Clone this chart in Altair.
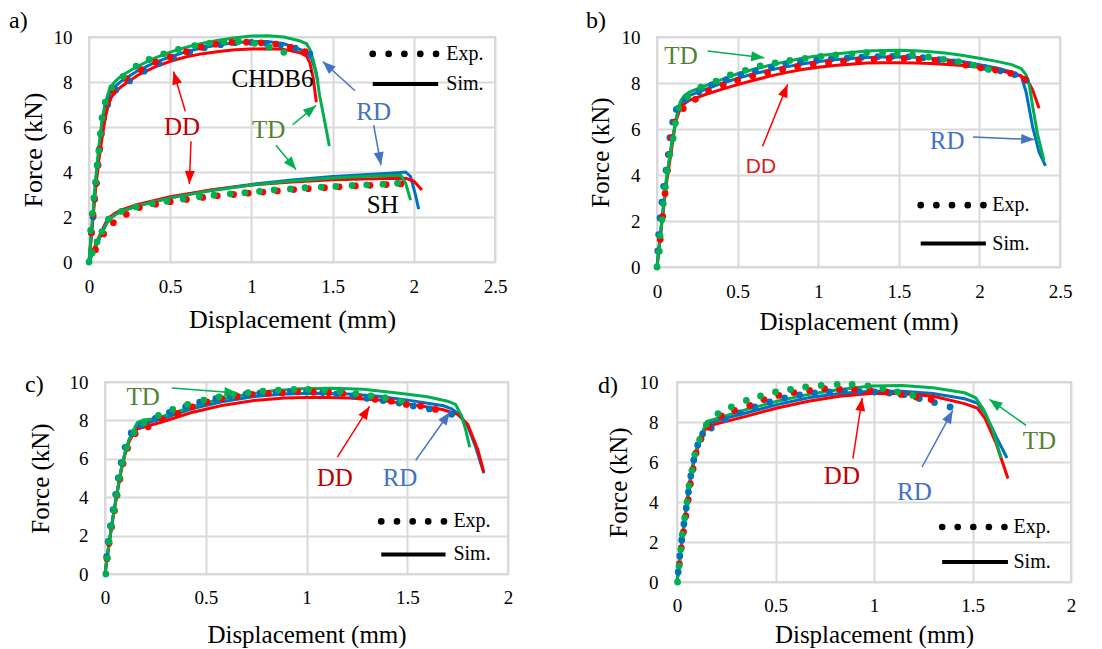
import math
import altair as alt
import pandas as pd

SERIF = "Liberation Serif"
SANS = "Liberation Sans"
GRID = "#D9D9D9"
SIM_COL = {"RD": "#0070C0", "DD": "#FF0000", "TD": "#00B050"}
ARROW_COL = {"RD": "#4472C4", "DD": "#FF0000", "TD": "#00B050"}
TEXT_COL = {"RD": "#4472C4", "DD": "#C00000", "TD": "#548235", "K": "#000000", "DDb": "#E01B1B"}
Y_TICKS = [0, 2, 4, 6, 8, 10]

# ---------------- panel a) CHDB6 + SH ----------------
a_ch_td_sim_x = [0, 0.02, 0.04, 0.06, 0.08, 0.10, 0.13, 0.16, 0.20, 0.30, 0.40, 0.50, 0.60, 0.70, 0.80, 0.90, 1.00, 1.10, 1.20, 1.30, 1.34, 1.36, 1.38, 1.40, 1.42, 1.45, 1.48]
a_ch_td_sim_y = [0, 1.8, 3.6, 5.1, 6.3, 7.1, 7.75, 8.02, 8.28, 8.7, 9.05, 9.33, 9.55, 9.72, 9.86, 9.97, 10.04, 10.06, 10.0, 9.82, 9.7, 9.45, 9.0, 8.4, 7.4, 6.3, 5.15]
a_ch_rd_sim_x = [0, 0.02, 0.04, 0.06, 0.08, 0.10, 0.13, 0.16, 0.20, 0.30, 0.40, 0.50, 0.60, 0.70, 0.80, 0.90, 1.00, 1.10, 1.20, 1.30, 1.34, 1.37, 1.39, 1.41]
a_ch_rd_sim_y = [0, 1.7, 3.4, 4.9, 6.1, 6.9, 7.5, 7.8, 8.05, 8.5, 8.85, 9.12, 9.35, 9.52, 9.65, 9.74, 9.8, 9.8, 9.7, 9.45, 9.3, 9.05, 8.6, 8.0]
a_ch_dd_sim_x = [0, 0.02, 0.04, 0.06, 0.08, 0.10, 0.12, 0.14, 0.17, 0.20, 0.30, 0.40, 0.50, 0.60, 0.70, 0.80, 0.90, 1.00, 1.10, 1.20, 1.30, 1.34, 1.36, 1.38, 1.40]
a_ch_dd_sim_y = [0, 1.6, 3.2, 4.5, 5.5, 6.4, 7.0, 7.35, 7.6, 7.8, 8.3, 8.65, 8.92, 9.12, 9.26, 9.36, 9.43, 9.47, 9.48, 9.45, 9.3, 9.15, 8.85, 8.2, 7.1]
a_sh_td_sim_x = [0, 0.02, 0.04, 0.07, 0.10, 0.12, 0.16, 0.20, 0.30, 0.50, 0.75, 1.00, 1.25, 1.50, 1.75, 1.92, 1.95, 1.98]
a_sh_td_sim_y = [0, 0.35, 0.65, 1.15, 1.6, 1.87, 2.1, 2.25, 2.5, 2.85, 3.17, 3.42, 3.6, 3.73, 3.82, 3.85, 3.5, 2.75]
a_sh_rd_sim_x = [0, 0.02, 0.04, 0.07, 0.10, 0.12, 0.16, 0.20, 0.30, 0.50, 0.75, 1.00, 1.25, 1.50, 1.75, 1.90, 1.95, 1.98, 2.01, 2.03]
a_sh_rd_sim_y = [0, 0.35, 0.65, 1.15, 1.6, 1.87, 2.1, 2.25, 2.5, 2.85, 3.2, 3.45, 3.65, 3.8, 3.9, 3.97, 4.0, 3.8, 3.0, 2.35]
a_sh_dd_sim_x = [0, 0.02, 0.04, 0.07, 0.10, 0.12, 0.16, 0.20, 0.30, 0.50, 0.75, 1.00, 1.25, 1.50, 1.75, 1.95, 2.00, 2.05]
a_sh_dd_sim_y = [0, 0.4, 0.75, 1.25, 1.7, 1.95, 2.17, 2.32, 2.56, 2.9, 3.2, 3.42, 3.56, 3.65, 3.7, 3.72, 3.6, 3.2]

a_ch_td_exp_x = [0.01, 0.02, 0.03, 0.04, 0.05, 0.06, 0.07, 0.08, 0.10, 0.14, 0.21, 0.29, 0.37, 0.46, 0.55, 0.65, 0.74, 0.83, 0.92, 1.02, 1.11, 1.20]
a_ch_td_exp_y = [1.4, 2.15, 2.85, 3.55, 4.3, 4.95, 5.7, 6.4, 7.1, 7.75, 8.25, 8.7, 9.0, 9.25, 9.45, 9.62, 9.72, 9.78, 9.8, 9.72, 9.55, 9.32]
a_ch_dd_exp_x = [0.015, 0.025, 0.035, 0.045, 0.055, 0.065, 0.075, 0.09, 0.11, 0.15, 0.23, 0.32, 0.41, 0.50, 0.60, 0.69, 0.78, 0.88, 0.97, 1.06, 1.15, 1.24, 1.33]
a_ch_dd_exp_y = [1.3, 2.1, 2.8, 3.5, 4.3, 5.0, 5.7, 6.4, 7.05, 7.6, 8.15, 8.55, 8.88, 9.12, 9.35, 9.55, 9.68, 9.76, 9.77, 9.74, 9.68, 9.55, 9.35]
a_ch_rd_exp_x = [0.015, 0.025, 0.035, 0.045, 0.055, 0.065, 0.075, 0.09, 0.115, 0.165, 0.25, 0.34, 0.43, 0.52, 0.62, 0.71, 0.81, 0.90, 1.00, 1.09, 1.18, 1.27, 1.36]
a_ch_rd_exp_y = [1.3, 2.0, 2.8, 3.5, 4.3, 5.0, 5.7, 6.4, 7.0, 7.65, 8.05, 8.48, 8.82, 9.1, 9.33, 9.52, 9.66, 9.74, 9.76, 9.72, 9.64, 9.5, 9.25]
a_sh_td_exp_x = [0.0, 0.02, 0.05, 0.08, 0.12, 0.20, 0.29, 0.39, 0.48, 0.58, 0.68, 0.77, 0.87, 0.96, 1.05, 1.14, 1.24, 1.33, 1.43, 1.52, 1.62, 1.71, 1.81, 1.90]
a_sh_td_exp_y = [0.0, 0.4, 0.9, 1.35, 1.9, 2.25, 2.45, 2.6, 2.7, 2.8, 2.9, 2.97, 3.03, 3.08, 3.14, 3.2, 3.25, 3.3, 3.33, 3.36, 3.4, 3.43, 3.46, 3.5]
a_sh_dd_exp_x = [0.04, 0.09, 0.15, 0.23, 0.31, 0.41, 0.50, 0.60, 0.70, 0.79, 0.89, 0.98, 1.07, 1.16, 1.26, 1.35, 1.45, 1.54, 1.64, 1.73, 1.83, 1.92]
a_sh_dd_exp_y = [0.55, 1.25, 1.75, 2.12, 2.42, 2.57, 2.68, 2.78, 2.87, 2.94, 3.0, 3.06, 3.11, 3.16, 3.22, 3.26, 3.3, 3.34, 3.38, 3.41, 3.44, 3.47]

# ---------------- panel b) ----------------
b_td_sim_x = [0, 0.03, 0.06, 0.09, 0.12, 0.145, 0.17, 0.2, 0.3, 0.4, 0.5, 0.6, 0.7, 0.8, 0.9, 1.0, 1.1, 1.2, 1.3, 1.4, 1.5, 1.6, 1.7, 1.8, 1.9, 2.0, 2.1, 2.2, 2.26, 2.29, 2.31, 2.33, 2.36, 2.40]
b_td_sim_y = [0, 2.0, 3.9, 5.3, 6.5, 7.2, 7.45, 7.6, 7.88, 8.15, 8.4, 8.6, 8.77, 8.93, 9.08, 9.18, 9.26, 9.33, 9.39, 9.41, 9.42, 9.4, 9.36, 9.29, 9.2, 9.08, 8.95, 8.8, 8.62, 8.35, 7.9, 7.0, 5.8, 4.65]
b_rd_sim_x = [0, 0.03, 0.06, 0.09, 0.12, 0.145, 0.17, 0.2, 0.3, 0.4, 0.5, 0.6, 0.7, 0.8, 0.9, 1.0, 1.1, 1.2, 1.3, 1.4, 1.5, 1.6, 1.7, 1.8, 1.9, 2.0, 2.1, 2.2, 2.26, 2.29, 2.33, 2.37, 2.41]
b_rd_sim_y = [0, 2.0, 3.9, 5.3, 6.5, 7.1, 7.3, 7.45, 7.72, 7.98, 8.2, 8.4, 8.56, 8.7, 8.83, 8.93, 9.01, 9.07, 9.11, 9.13, 9.14, 9.12, 9.08, 9.01, 8.92, 8.8, 8.66, 8.48, 8.3, 7.6, 6.1, 5.0, 4.4]
b_dd_sim_x = [0, 0.03, 0.06, 0.09, 0.115, 0.15, 0.2, 0.3, 0.4, 0.5, 0.6, 0.7, 0.8, 0.9, 1.0, 1.1, 1.2, 1.3, 1.4, 1.5, 1.6, 1.7, 1.8, 1.9, 2.0, 2.1, 2.2, 2.26, 2.3, 2.33, 2.37]
b_dd_sim_y = [0, 1.9, 3.7, 5.1, 6.3, 7.0, 7.25, 7.5, 7.72, 7.93, 8.12, 8.3, 8.45, 8.59, 8.68, 8.76, 8.82, 8.87, 8.88, 8.88, 8.87, 8.85, 8.8, 8.76, 8.68, 8.58, 8.42, 8.3, 8.1, 7.7, 6.9]

b_td_exp_x = [0.0, 0.014, 0.019, 0.031, 0.039, 0.052, 0.062, 0.08, 0.10, 0.114, 0.134, 0.19, 0.273, 0.366, 0.455, 0.548, 0.64, 0.733, 0.824, 0.919, 1.017, 1.11, 1.209, 1.30, 1.40, 1.49, 1.585, 1.684, 1.777, 1.87, 1.963, 2.056]
b_td_exp_y = [0.0, 0.68, 1.36, 2.06, 2.76, 3.47, 4.19, 4.89, 5.59, 6.26, 6.92, 7.4, 7.82, 8.08, 8.35, 8.55, 8.74, 8.87, 8.98, 9.07, 9.16, 9.22, 9.27, 9.32, 9.32, 9.27, 9.22, 9.13, 9.03, 8.93, 8.78, 8.59]
b_dd_exp_x = [0.02, 0.035, 0.05, 0.065, 0.076, 0.09, 0.11, 0.163, 0.238, 0.32, 0.411, 0.5, 0.593, 0.686, 0.779, 0.872, 0.969, 1.064, 1.157, 1.25, 1.347, 1.44, 1.533, 1.626, 1.725, 1.818, 1.915, 2.008, 2.1, 2.194, 2.283]
b_dd_exp_y = [1.2, 2.2, 3.2, 4.2, 4.9, 5.62, 6.3, 6.89, 7.29, 7.65, 7.91, 8.11, 8.3, 8.45, 8.59, 8.72, 8.82, 8.88, 8.94, 8.98, 9.03, 9.07, 9.07, 9.03, 8.98, 8.88, 8.78, 8.66, 8.56, 8.42, 8.16]
b_rd_exp_x = [0.005, 0.01, 0.019, 0.031, 0.041, 0.056, 0.07, 0.08, 0.097, 0.12, 0.18, 0.26, 0.34, 0.43, 0.52, 0.61, 0.71, 0.80, 0.89, 0.99, 1.08, 1.18, 1.27, 1.37, 1.46, 1.56, 1.65, 1.75, 1.84, 1.94, 2.03, 2.13, 2.22, 2.29]
b_rd_exp_y = [0.7, 1.41, 2.13, 2.82, 3.51, 4.21, 4.89, 5.62, 6.3, 6.85, 7.28, 7.62, 7.92, 8.15, 8.36, 8.53, 8.68, 8.8, 8.9, 8.98, 9.04, 9.08, 9.12, 9.15, 9.16, 9.14, 9.1, 9.02, 8.92, 8.8, 8.68, 8.53, 8.36, 8.12]

# ---------------- panel c) ----------------
c_td_sim_x = [0, 0.02, 0.04, 0.06, 0.08, 0.10, 0.12, 0.14, 0.16, 0.19, 0.25, 0.35, 0.50, 0.66, 0.82, 0.97, 1.13, 1.28, 1.44, 1.60, 1.70, 1.74, 1.77, 1.79, 1.81]
c_td_sim_y = [0, 1.6, 3.0, 4.25, 5.45, 6.35, 7.0, 7.45, 7.88, 8.02, 8.09, 8.43, 8.92, 9.27, 9.53, 9.65, 9.67, 9.62, 9.44, 9.23, 9.0, 8.83, 8.23, 7.5, 6.6]
c_rd_sim_x = [0, 0.02, 0.04, 0.06, 0.08, 0.10, 0.12, 0.14, 0.16, 0.20, 0.30, 0.43, 0.58, 0.74, 0.89, 1.05, 1.21, 1.36, 1.52, 1.68, 1.72, 1.76, 1.80, 1.84, 1.88]
c_rd_sim_y = [0, 1.6, 3.0, 4.25, 5.45, 6.35, 7.0, 7.4, 7.7, 7.85, 8.15, 8.6, 8.97, 9.24, 9.38, 9.42, 9.38, 9.26, 9.03, 8.76, 8.6, 8.3, 7.7, 6.6, 5.25]
c_dd_sim_x = [0, 0.02, 0.04, 0.06, 0.08, 0.10, 0.12, 0.14, 0.16, 0.20, 0.27, 0.425, 0.58, 0.74, 0.89, 1.05, 1.21, 1.36, 1.52, 1.675, 1.75, 1.80, 1.85, 1.88]
c_dd_sim_y = [0, 1.55, 2.95, 4.2, 5.35, 6.25, 6.9, 7.3, 7.55, 7.68, 7.88, 8.4, 8.78, 9.04, 9.17, 9.2, 9.17, 9.06, 8.83, 8.57, 8.31, 7.8, 6.49, 5.31]

c_td_exp_x = [0.004, 0.012, 0.02, 0.031, 0.045, 0.058, 0.071, 0.086, 0.108, 0.144, 0.194, 0.265, 0.336, 0.41, 0.49, 0.566, 0.636, 0.71, 0.784, 0.86, 0.9375, 1.01, 1.09, 1.167, 1.245, 1.32, 1.39, 1.47]
c_td_exp_y = [0.0, 0.83, 1.67, 2.48, 3.32, 4.13, 5.0, 5.78, 6.58, 7.36, 7.86, 8.26, 8.57, 8.83, 9.06, 9.23, 9.36, 9.44, 9.53, 9.58, 9.62, 9.62, 9.58, 9.5, 9.39, 9.27, 9.18, 9.0]
c_dd_exp_x = [0.01, 0.02, 0.033, 0.047, 0.06, 0.074, 0.09, 0.112, 0.15, 0.214, 0.284, 0.36, 0.433, 0.506, 0.58, 0.655, 0.73, 0.81, 0.88, 0.956, 1.034, 1.11, 1.18, 1.26, 1.34, 1.42, 1.495, 1.566, 1.64]
c_dd_exp_y = [0.8, 1.6, 2.45, 3.3, 4.1, 4.95, 5.75, 6.55, 7.3, 7.67, 8.05, 8.37, 8.7, 8.96, 9.13, 9.26, 9.36, 9.41, 9.44, 9.5, 9.48, 9.44, 9.41, 9.23, 9.1, 9.0, 8.83, 8.75, 8.57]
c_rd_exp_x = [0.008, 0.016, 0.027, 0.04, 0.053, 0.066, 0.08, 0.10, 0.13, 0.18, 0.25, 0.32, 0.40, 0.47, 0.55, 0.62, 0.70, 0.77, 0.85, 0.92, 1.00, 1.08, 1.15, 1.23, 1.30, 1.38, 1.46, 1.53, 1.61, 1.72]
c_rd_exp_y = [0.9, 1.7, 2.5, 3.35, 4.15, 5.0, 5.8, 6.6, 7.35, 7.75, 8.1, 8.42, 8.72, 8.95, 9.13, 9.27, 9.37, 9.43, 9.47, 9.49, 9.48, 9.45, 9.38, 9.28, 9.15, 9.03, 8.9, 8.75, 8.6, 8.32]

# ---------------- panel d) ----------------
d_td_sim_x = [0, 0.02, 0.04, 0.06, 0.08, 0.10, 0.12, 0.14, 0.151, 0.19, 0.35, 0.508, 0.667, 0.825, 0.984, 1.143, 1.30, 1.46, 1.516, 1.556, 1.603, 1.645]
d_td_sim_y = [0, 1.65, 3.25, 4.7, 5.85, 6.65, 7.25, 7.75, 8.03, 8.14, 8.62, 9.04, 9.38, 9.63, 9.8, 9.83, 9.71, 9.46, 9.21, 8.62, 7.6, 6.2]
d_rd_sim_x = [0, 0.02, 0.04, 0.06, 0.08, 0.10, 0.12, 0.14, 0.159, 0.25, 0.35, 0.508, 0.667, 0.825, 0.984, 1.143, 1.30, 1.46, 1.524, 1.563, 1.62, 1.675]
d_rd_sim_y = [0, 1.65, 3.25, 4.7, 5.85, 6.65, 7.25, 7.7, 7.94, 8.2, 8.45, 8.87, 9.21, 9.43, 9.54, 9.54, 9.43, 9.16, 8.95, 8.45, 7.27, 6.2]
d_dd_sim_x = [0, 0.02, 0.04, 0.06, 0.08, 0.10, 0.12, 0.135, 0.159, 0.25, 0.35, 0.508, 0.667, 0.825, 0.984, 1.143, 1.30, 1.46, 1.524, 1.563, 1.62, 1.68]
d_dd_sim_y = [0, 1.6, 3.2, 4.6, 5.75, 6.55, 7.15, 7.52, 7.8, 8.03, 8.28, 8.7, 9.04, 9.29, 9.43, 9.43, 9.29, 8.92, 8.7, 8.19, 6.93, 5.17]

d_td_exp_x = [0.003, 0.01, 0.019, 0.027, 0.039, 0.051, 0.061, 0.076, 0.09, 0.115, 0.149, 0.208, 0.276, 0.352, 0.424, 0.5, 0.576, 0.653, 0.732, 0.813, 0.889, 0.969, 1.045, 1.12, 1.197]
d_td_exp_y = [0.0, 0.8, 1.62, 2.38, 3.2, 4.0, 4.8, 5.58, 6.37, 7.12, 7.87, 8.42, 8.75, 9.08, 9.3, 9.5, 9.63, 9.75, 9.83, 9.88, 9.88, 9.8, 9.67, 9.5, 9.33]
d_dd_exp_x = [0.012, 0.022, 0.033, 0.045, 0.057, 0.068, 0.082, 0.097, 0.122, 0.16, 0.225, 0.292, 0.369, 0.441, 0.517, 0.593, 0.673, 0.749, 0.825, 0.901, 0.98, 1.062, 1.138, 1.214, 1.29]
d_dd_exp_y = [0.9, 1.7, 2.5, 3.3, 4.1, 4.9, 5.65, 6.45, 7.15, 7.75, 8.3, 8.58, 8.83, 9.12, 9.33, 9.47, 9.58, 9.67, 9.63, 9.63, 9.58, 9.5, 9.38, 9.25, 9.12]
d_rd_exp_x = [0.006, 0.014, 0.024, 0.035, 0.047, 0.058, 0.07, 0.085, 0.105, 0.13, 0.174, 0.242, 0.318, 0.394, 0.47, 0.546, 0.622, 0.698, 0.774, 0.85, 0.926, 1.002, 1.078, 1.154, 1.23, 1.307, 1.386]
d_rd_exp_y = [0.5, 1.3, 2.1, 2.9, 3.7, 4.5, 5.3, 6.1, 6.85, 7.4, 7.7, 8.13, 8.45, 8.75, 9.0, 9.2, 9.35, 9.45, 9.5, 9.52, 9.52, 9.5, 9.45, 9.37, 9.17, 8.97, 8.75]

# ---------------- annotations (data units) ----------------
a_texts = [("CHDB6", 1.13, 8.15, "K", SERIF), ("DD", 0.573, 5.99, "DD", SERIF), ("TD", 1.106, 5.88, "TD", SERIF),
           ("RD", 1.753, 6.65, "RD", SERIF), ("SH", 1.808, 2.53, "K", SERIF)]
a_arrows = [("DD", 0.593, 6.7, 0.52, 8.47), ("DD", 0.628, 5.37, 0.618, 3.47), ("TD", 1.254, 6.1, 1.398, 6.96),
            ("TD", 1.151, 5.19, 1.275, 4.11), ("RD", 1.638, 7.61, 1.439, 8.91), ("RD", 1.753, 6.08, 1.798, 4.3)]
a_key = dict(dots_x=[1.747, 1.845, 1.942, 2.04, 2.137], dots_y=9.25, line_x=[1.747, 2.15], line_y=7.91, label_x=2.2)

b_texts = [("TD", 0.149, 9.17, "TD", SERIF), ("DD", 0.645, 4.35, "DDb", SANS), ("RD", 1.80, 5.5, "RD", SERIF)]
b_arrows = [("TD", 0.314, 9.39, 0.665, 9.1), ("DD", 0.655, 5.25, 0.81, 7.94), ("RD", 1.96, 5.65, 2.34, 5.54)]
b_key = dict(dots_x=[1.636, 1.733, 1.83, 1.928, 2.025], dots_y=2.69, line_x=[1.636, 2.04], line_y=1.02, label_x=2.08)

c_texts = [("TD", 0.189, 9.22, "TD", SERIF), ("DD", 1.14, 5.02, "DD", SERIF), ("RD", 1.464, 5.02, "RD", SERIF)]
c_arrows = [("TD", 0.331, 9.69, 0.657, 9.43), ("DD", 1.153, 6.09, 1.313, 8.73), ("RD", 1.542, 5.92, 1.712, 8.44)]
c_key = dict(dots_x=[1.371, 1.449, 1.527, 1.604, 1.682], dots_y=2.74, line_x=[1.371, 1.69], line_y=1.02, label_x=1.729)

d_texts = [("DD", 0.837, 5.28, "DD", SERIF), ("RD", 1.205, 4.5, "RD", SERIF), ("TD", 1.839, 7.03, "TD", SERIF)]
d_arrows = [("DD", 0.893, 6.17, 0.94, 9.2), ("RD", 1.244, 5.75, 1.4, 8.58), ("TD", 1.772, 7.83, 1.586, 9.13)]
d_key = dict(dots_x=[1.346, 1.425, 1.504, 1.583, 1.662], dots_y=2.75, line_x=[1.346, 1.68], line_y=1.0, label_x=1.708)

PANELS = {
    "a": dict(
        sims=[("RD", a_ch_rd_sim_x, a_ch_rd_sim_y), ("RD", a_sh_rd_sim_x, a_sh_rd_sim_y),
              ("DD", a_ch_dd_sim_x, a_ch_dd_sim_y), ("DD", a_sh_dd_sim_x, a_sh_dd_sim_y),
              ("TD", a_ch_td_sim_x, a_ch_td_sim_y), ("TD", a_sh_td_sim_x, a_sh_td_sim_y)],
        exps=[("RD", a_ch_rd_exp_x, a_ch_rd_exp_y), ("DD", a_ch_dd_exp_x, a_ch_dd_exp_y),
              ("DD", a_sh_dd_exp_x, a_sh_dd_exp_y), ("TD", a_ch_td_exp_x, a_ch_td_exp_y),
              ("TD", a_sh_td_exp_x, a_sh_td_exp_y)],
        texts=a_texts, arrows=a_arrows, key=a_key,
        w=406, h=225, xmax=2.5, xticks=[0, 0.5, 1, 1.5, 2, 2.5], xlp=15, xty=57, ytx=-56, ylp=17, tfs=26,
        letter=("a)", -80, -16), frame=(-80, 430, -28, 300)),
    "b": dict(
        sims=[("RD", b_rd_sim_x, b_rd_sim_y), ("DD", b_dd_sim_x, b_dd_sim_y), ("TD", b_td_sim_x, b_td_sim_y)],
        exps=[("RD", b_rd_exp_x, b_rd_exp_y), ("DD", b_dd_exp_x, b_dd_exp_y), ("TD", b_td_exp_x, b_td_exp_y)],
        texts=b_texts, arrows=b_arrows, key=b_key,
        w=403, h=230, xmax=2.5, xticks=[0, 0.5, 1, 1.5, 2, 2.5], xlp=15, xty=54, ytx=-57, ylp=17, tfs=25,
        letter=("b)", -71, -16), frame=(-80, 403, -28, 300)),
    "c": dict(
        sims=[("RD", c_rd_sim_x, c_rd_sim_y), ("DD", c_dd_sim_x, c_dd_sim_y), ("TD", c_td_sim_x, c_td_sim_y)],
        exps=[("RD", c_rd_exp_x, c_rd_exp_y), ("DD", c_dd_exp_x, c_dd_exp_y), ("TD", c_td_exp_x, c_td_exp_y)],
        texts=c_texts, arrows=c_arrows, key=c_key,
        w=403, h=192, xmax=2, xticks=[0, 0.5, 1, 1.5, 2], xlp=14, xty=60, ytx=-65, ylp=17, tfs=25,
        letter=("c)", -80, 3), frame=(-94, 430, -12, 192)),
    "d": dict(
        sims=[("RD", d_rd_sim_x, d_rd_sim_y), ("DD", d_dd_sim_x, d_dd_sim_y), ("TD", d_td_sim_x, d_td_sim_y)],
        exps=[("RD", d_rd_exp_x, d_rd_exp_y), ("DD", d_dd_exp_x, d_dd_exp_y), ("TD", d_td_exp_x, d_td_exp_y)],
        texts=d_texts, arrows=d_arrows, key=d_key,
        w=394, h=200, xmax=2, xticks=[0, 0.5, 1, 1.5, 2], xlp=14, xty=52, ytx=-59, ylp=19, tfs=25,
        letter=("d)", -79, 4), frame=(-82, 394, -12, 200)),
}

HEAD = "M0,0L1,2.6L-1,2.6Z"
ONE = pd.DataFrame({"k": [0]})


def build(key):
    P = PANELS[key]
    W, H, XM = P["w"], P["h"], P["xmax"]
    xs = alt.Scale(domain=[0, XM], nice=False, zero=False)
    ys = alt.Scale(domain=[0, 10], nice=False, zero=False)
    common = dict(format="~r", grid=True, gridColor=GRID, gridWidth=2, domain=False, ticks=False, tickSize=0,
                  labelFont=SERIF, labelFontSize=19, labelColor="#000000", labelFlush=False, labelOverlap=False,
                  titleFont=SERIF, titleFontSize=P["tfs"], titleFontWeight="normal", titleColor="#000000",
                  titleAlign="center", titleBaseline="middle")
    xax = alt.Axis(values=P["xticks"], title="Displacement (mm)", labelPadding=P["xlp"],
                   titleX=W / 2, titleY=P["xty"], **common)
    yax = alt.Axis(values=Y_TICKS, title="Force (kN)", labelPadding=P["ylp"],
                   titleX=P["ytx"], titleY=H / 2, titleAngle=270, **common)

    def X(f):
        return alt.X(f, type="quantitative", scale=xs, axis=xax)

    def Y(f):
        return alt.Y(f, type="quantitative", scale=ys, axis=yax)

    layers = []
    for d, xv, yv in P["sims"]:
        df = pd.DataFrame({"x": xv, "y": yv, "i": list(range(len(xv)))})
        layers.append(alt.Chart(df).mark_line(color=SIM_COL[d], strokeWidth=3)
                      .encode(x=X("x"), y=Y("y"), order=alt.Order("i:Q")))
    for d, xv, yv in P["exps"]:
        df = pd.DataFrame({"x": xv, "y": yv})
        layers.append(alt.Chart(df).mark_circle(color=SIM_COL[d], size=46, opacity=1)
                      .encode(x=X("x"), y=Y("y")))

    # arrows
    rows = []
    for c, x1, y1, x2, y2 in P["arrows"]:
        dxp = (x2 - x1) * W / XM
        dyp = -(y2 - y1) * H / 10
        ang = (math.degrees(math.atan2(dxp, -dyp)) + 360) % 360
        rows.append(dict(x=x1, y=y1, x2=x2, y2=y2, col=ARROW_COL[c], angle=ang))
    adf = pd.DataFrame(rows)
    layers.append(alt.Chart(adf).mark_rule(strokeWidth=1.5).encode(
        x=X("x"), y=Y("y"), x2="x2", y2="y2", color=alt.Color("col:N", scale=None)))
    layers.append(alt.Chart(adf).mark_point(shape=HEAD, size=100, filled=True, opacity=1, strokeWidth=0).encode(
        x=X("x2"), y=Y("y2"), angle=alt.Angle("angle:Q", scale=None), color=alt.Color("col:N", scale=None)))

    # text labels
    for font in (SERIF, SANS):
        tr = [dict(t=t, x=x, y=y, col=TEXT_COL[c]) for t, x, y, c, f in P["texts"] if f == font]
        if not tr:
            continue
        fs = 25 if font == SERIF else 21
        layers.append(alt.Chart(pd.DataFrame(tr)).mark_text(font=font, fontSize=fs, align="center", baseline="middle")
                      .encode(x=X("x"), y=Y("y"), text="t:N", color=alt.Color("col:N", scale=None)))

    # Exp./Sim. key
    K = P["key"]
    kd = pd.DataFrame({"x": K["dots_x"], "y": [K["dots_y"]] * len(K["dots_x"])})
    layers.append(alt.Chart(kd).mark_circle(color="#000000", size=44, opacity=1).encode(x=X("x"), y=Y("y")))
    kl = pd.DataFrame({"x": [K["line_x"][0]], "x2": [K["line_x"][1]], "y": [K["line_y"]]})
    layers.append(alt.Chart(kl).mark_rule(color="#000000", strokeWidth=4).encode(x=X("x"), x2="x2", y=Y("y")))
    kt = pd.DataFrame({"t": ["Exp.", "Sim."], "x": [K["label_x"]] * 2, "y": [K["dots_y"], K["line_y"]]})
    layers.append(alt.Chart(kt).mark_text(font=SERIF, fontSize=20, align="left", baseline="middle", color="#000000")
                  .encode(x=X("x"), y=Y("y"), text="t:N"))

    # panel letter and layout frame
    lt, lx, ly = P["letter"]
    layers.append(alt.Chart(ONE).mark_text(text=lt, font=SERIF, fontSize=24, align="left", baseline="middle",
                                           color="#000000").encode(x=alt.value(lx), y=alt.value(ly)))
    L, R, T, B = P["frame"]
    layers.append(alt.Chart(ONE).mark_rect(opacity=0).encode(
        x=alt.value(L), x2=alt.value(R), y=alt.value(T), y2=alt.value(B)))

    return alt.layer(*layers).properties(width=W, height=H)


# tiny invisible view used to offset panel c) to the right of panel a)
spacer = (alt.Chart(ONE).mark_rect(opacity=0)
          .encode(x=alt.value(0), x2=alt.value(1), y=alt.value(0), y2=alt.value(1))
          .properties(width=1, height=1, view=alt.ViewBackground(stroke="transparent")))

row1 = alt.hconcat(build("a"), build("b"), spacing=56)
c_wrap = alt.hconcat(spacer, build("c"), spacing=-81)
row2 = alt.hconcat(c_wrap, build("d"), spacing=58)
chart = (alt.vconcat(row1, row2, spacing=31)
         .properties(padding=0, background="white")
         .configure_axis(labelFont=SERIF, titleFont=SERIF)
         .configure_view(stroke=GRID, strokeWidth=2))

chart.save("out.html", embed_options={"renderer": "svg", "actions": False})
